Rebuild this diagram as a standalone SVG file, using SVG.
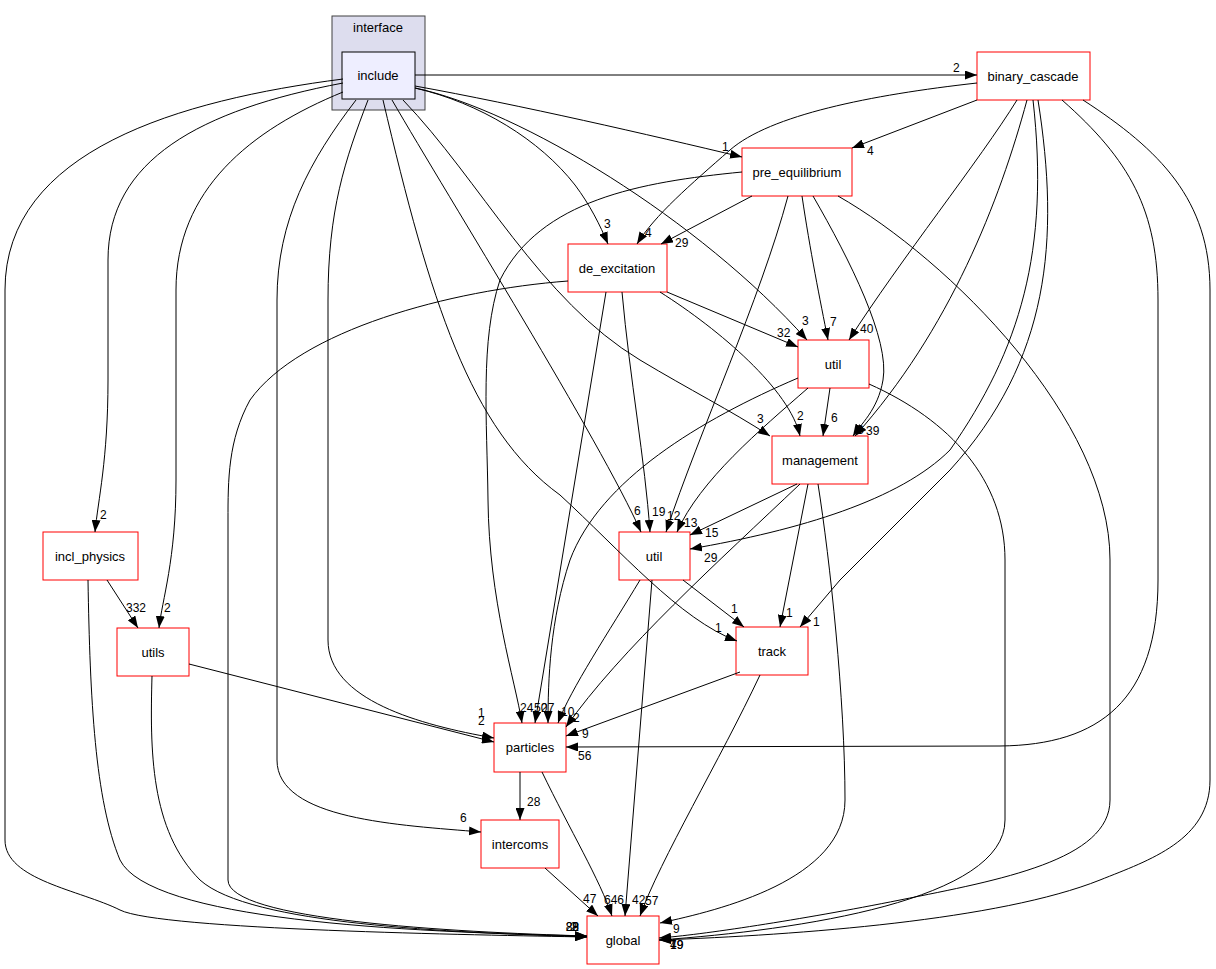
<svg xmlns="http://www.w3.org/2000/svg" width="1216" height="969" viewBox="0 0 1216 969">
<defs>
<marker id="ah" viewBox="0 0 12 9" refX="12" refY="4.5" markerWidth="12" markerHeight="9" markerUnits="userSpaceOnUse" orient="auto">
<path d="M0,0 L12,4.5 L0,9 z" fill="#000"/>
</marker>
<style>
.n rect{fill:#fff;stroke:red;stroke-width:1}
.t{font-family:"Liberation Sans",Arial,sans-serif;font-size:13px;fill:#000;text-anchor:middle}
.l{font-family:"Liberation Sans",Arial,sans-serif;font-size:12px;fill:#000}
.e path{fill:none;stroke:#000;stroke-width:1;marker-end:url(#ah)}
</style>
</defs>
<rect width="1216" height="969" fill="#fff"/>
<g id="cluster_interface">
<rect x="332" y="16" width="93" height="94" fill="#ddddee" stroke="#404040" stroke-width="1"/>
<text class="t" x="378" y="32">interface</text>
</g>
<g id="node_include">
<rect x="342" y="52" width="73" height="47" fill="#eeeeff" stroke="#000" stroke-width="1"/>
<text class="t" x="378" y="80">include</text>
</g>
<g id="node_binary_cascade" class="n"><rect x="977" y="52" width="113" height="48"/><text class="t" x="1033" y="81">binary_cascade</text></g>
<g id="node_pre_equilibrium" class="n"><rect x="742" y="148" width="110" height="48"/><text class="t" x="797" y="177">pre_equilibrium</text></g>
<g id="node_de_excitation" class="n"><rect x="568" y="244" width="99" height="48"/><text class="t" x="617" y="273">de_excitation</text></g>
<g id="node_util_upper" class="n"><rect x="798" y="340" width="71" height="48"/><text class="t" x="833" y="369">util</text></g>
<g id="node_management" class="n"><rect x="772" y="436" width="96" height="48"/><text class="t" x="820" y="465">management</text></g>
<g id="node_util_lower" class="n"><rect x="619" y="532" width="71" height="48"/><text class="t" x="654" y="561">util</text></g>
<g id="node_track" class="n"><rect x="736" y="627" width="72" height="48"/><text class="t" x="772" y="656">track</text></g>
<g id="node_particles" class="n"><rect x="494" y="723" width="72" height="49"/><text class="t" x="530" y="752">particles</text></g>
<g id="node_intercoms" class="n"><rect x="481" y="820" width="78" height="48"/><text class="t" x="520" y="849">intercoms</text></g>
<g id="node_global" class="n"><rect x="587" y="916" width="72" height="48"/><text class="t" x="623" y="945">global</text></g>
<g id="node_incl_physics" class="n"><rect x="43" y="532" width="95" height="48"/><text class="t" x="90" y="561">incl_physics</text></g>
<g id="node_utils" class="n"><rect x="117" y="628" width="72" height="48"/><text class="t" x="153" y="657">utils</text></g>
<g id="connectors" class="e">
<path d="M415,75 L977,75"/>
<path d="M415,86 C520,105 650,135 742,157"/>
<path d="M415,88 C480,103 540,140 575,185 C590,205 600,225 608,244"/>
<path d="M415,88 C520,110 700,220 807,340"/>
<path d="M403,100 C480,180 540,300 640,360 C690,390 730,410 770,436"/>
<path d="M392,100 C450,200 600,440 641,532"/>
<path d="M383,100 C430,300 470,430 560,495 C620,550 680,620 737,641"/>
<path d="M368,100 C345,160 328,210 328,300 L328,640 C328,700 420,725 494,738"/>
<path d="M356,100 C310,160 277,220 277,300 L277,760 C277,820 400,825 481,832"/>
<path d="M343,79 C180,100 5,150 5,290 L5,840 C5,880 80,890 120,910 C160,930 480,935 587,937"/>
<path d="M343,83 C200,110 108,160 108,260 L108,380 C108,460 98,500 95,532"/>
<path d="M343,92 C250,130 176,190 176,290 L176,480 C176,560 162,600 159,628"/>
<path d="M977,100 L852,148"/>
<path d="M977,83 C870,95 770,115 730,150 C690,185 655,215 637,244"/>
<path d="M1017,100 C980,160 900,260 849,340"/>
<path d="M1027,100 C1000,200 950,330 855,436"/>
<path d="M1033,100 C1050,250 1020,350 950,450 C900,500 800,530 690,549"/>
<path d="M1038,100 C1060,240 1050,360 950,470 L840,580 L800,627"/>
<path d="M1062,100 C1130,160 1158,210 1158,300 L1158,580 C1158,700 1100,745 1000,746 L566,747"/>
<path d="M1083,100 C1160,150 1210,200 1210,290 L1210,780 C1210,840 1150,860 1100,880 C1000,920 800,935 659,940"/>
<path d="M752,196 L661,244"/>
<path d="M742,172 C640,182 540,200 500,280 C480,340 487,420 488,500 C489,600 515,680 522,723"/>
<path d="M788,196 C760,300 700,430 666,532"/>
<path d="M802,196 C810,250 820,300 828,340"/>
<path d="M813,196 C850,260 890,340 883,380 C878,410 860,425 853,436"/>
<path d="M838,196 C950,260 1110,420 1110,560 L1110,800 C1110,860 1000,880 900,900 C800,920 700,935 659,938"/>
<path d="M568,281 C450,290 300,330 250,400 C228,440 228,480 228,520 L228,880 C228,920 450,932 587,936"/>
<path d="M606,292 L535,723"/>
<path d="M622,292 C630,380 645,460 650,532"/>
<path d="M667,292 L798,347"/>
<path d="M660,292 C720,330 790,390 800,436"/>
<path d="M830,388 L823,436"/>
<path d="M808,388 C760,430 700,480 677,532"/>
<path d="M798,378 C700,420 600,480 570,560 C550,620 548,680 548,723"/>
<path d="M869,384 C950,420 1005,480 1005,560 L1005,820 C1005,900 800,930 659,940"/>
<path d="M797,484 L690,535"/>
<path d="M800,484 C720,560 620,650 566,727"/>
<path d="M808,484 L780,627"/>
<path d="M818,484 C830,560 845,700 845,800 C845,880 720,910 660,923"/>
<path d="M683,580 L744,627"/>
<path d="M640,580 C610,630 570,690 558,723"/>
<path d="M652,580 L625,916"/>
<path d="M740,672 L566,736"/>
<path d="M760,675 C720,760 660,860 640,916"/>
<path d="M520,772 L520,820"/>
<path d="M542,772 C570,830 600,880 612,916"/>
<path d="M545,868 L598,916"/>
<path d="M107,580 L138,628"/>
<path d="M88,580 C90,700 95,800 120,860 C150,920 400,932 587,936"/>
<path d="M189,664 L494,742"/>
<path d="M152,676 C150,750 150,830 200,880 C250,925 450,932 587,937"/>
</g>
<g id="edge_labels">
<text class="l" x="953" y="72">2</text>
<text class="l" x="722" y="151">1</text>
<text class="l" x="604" y="228">3</text>
<text class="l" x="802" y="325">3</text>
<text class="l" x="757" y="423">3</text>
<text class="l" x="634" y="515">6</text>
<text class="l" x="715" y="632">1</text>
<text class="l" x="478" y="717">1</text>
<text class="l" x="478" y="725">2</text>
<text class="l" x="460" y="822">6</text>
<text class="l" x="100" y="519">2</text>
<text class="l" x="164" y="612">2</text>
<text class="l" x="867" y="155">4</text>
<text class="l" x="645" y="237">4</text>
<text class="l" x="860" y="333">40</text>
<text class="l" x="857" y="434">3</text>
<text class="l" x="866" y="435">39</text>
<text class="l" x="704" y="562">29</text>
<text class="l" x="813" y="626">1</text>
<text class="l" x="578" y="760">56</text>
<text class="l" x="675" y="247">29</text>
<text class="l" x="520" y="712">24</text>
<text class="l" x="667" y="520">12</text>
<text class="l" x="830" y="326">7</text>
<text class="l" x="652" y="516">19</text>
<text class="l" x="777" y="337">32</text>
<text class="l" x="797" y="420">2</text>
<text class="l" x="831" y="422">6</text>
<text class="l" x="684" y="527">13</text>
<text class="l" x="534" y="712">50</text>
<text class="l" x="541" y="712">27</text>
<text class="l" x="705" y="537">15</text>
<text class="l" x="561" y="716">10</text>
<text class="l" x="573" y="722">2</text>
<text class="l" x="786" y="617">1</text>
<text class="l" x="673" y="933">9</text>
<text class="l" x="731" y="613">1</text>
<text class="l" x="632" y="904">42</text>
<text class="l" x="582" y="738">9</text>
<text class="l" x="645" y="905">57</text>
<text class="l" x="527" y="806">28</text>
<text class="l" x="604" y="904">646</text>
<text class="l" x="583" y="903">47</text>
<text class="l" x="126" y="612">332</text>
<text class="l" x="579" y="931" text-anchor="end">28</text>
<text class="l" x="579" y="931" text-anchor="end">2</text>
<text class="l" x="579" y="931" text-anchor="end">89</text>
<text class="l" x="577" y="931" text-anchor="end">2</text>
<text class="l" x="670" y="949">49</text>
<text class="l" x="670" y="949">79</text>
<text class="l" x="670" y="949">1</text>
</g>
</svg>
